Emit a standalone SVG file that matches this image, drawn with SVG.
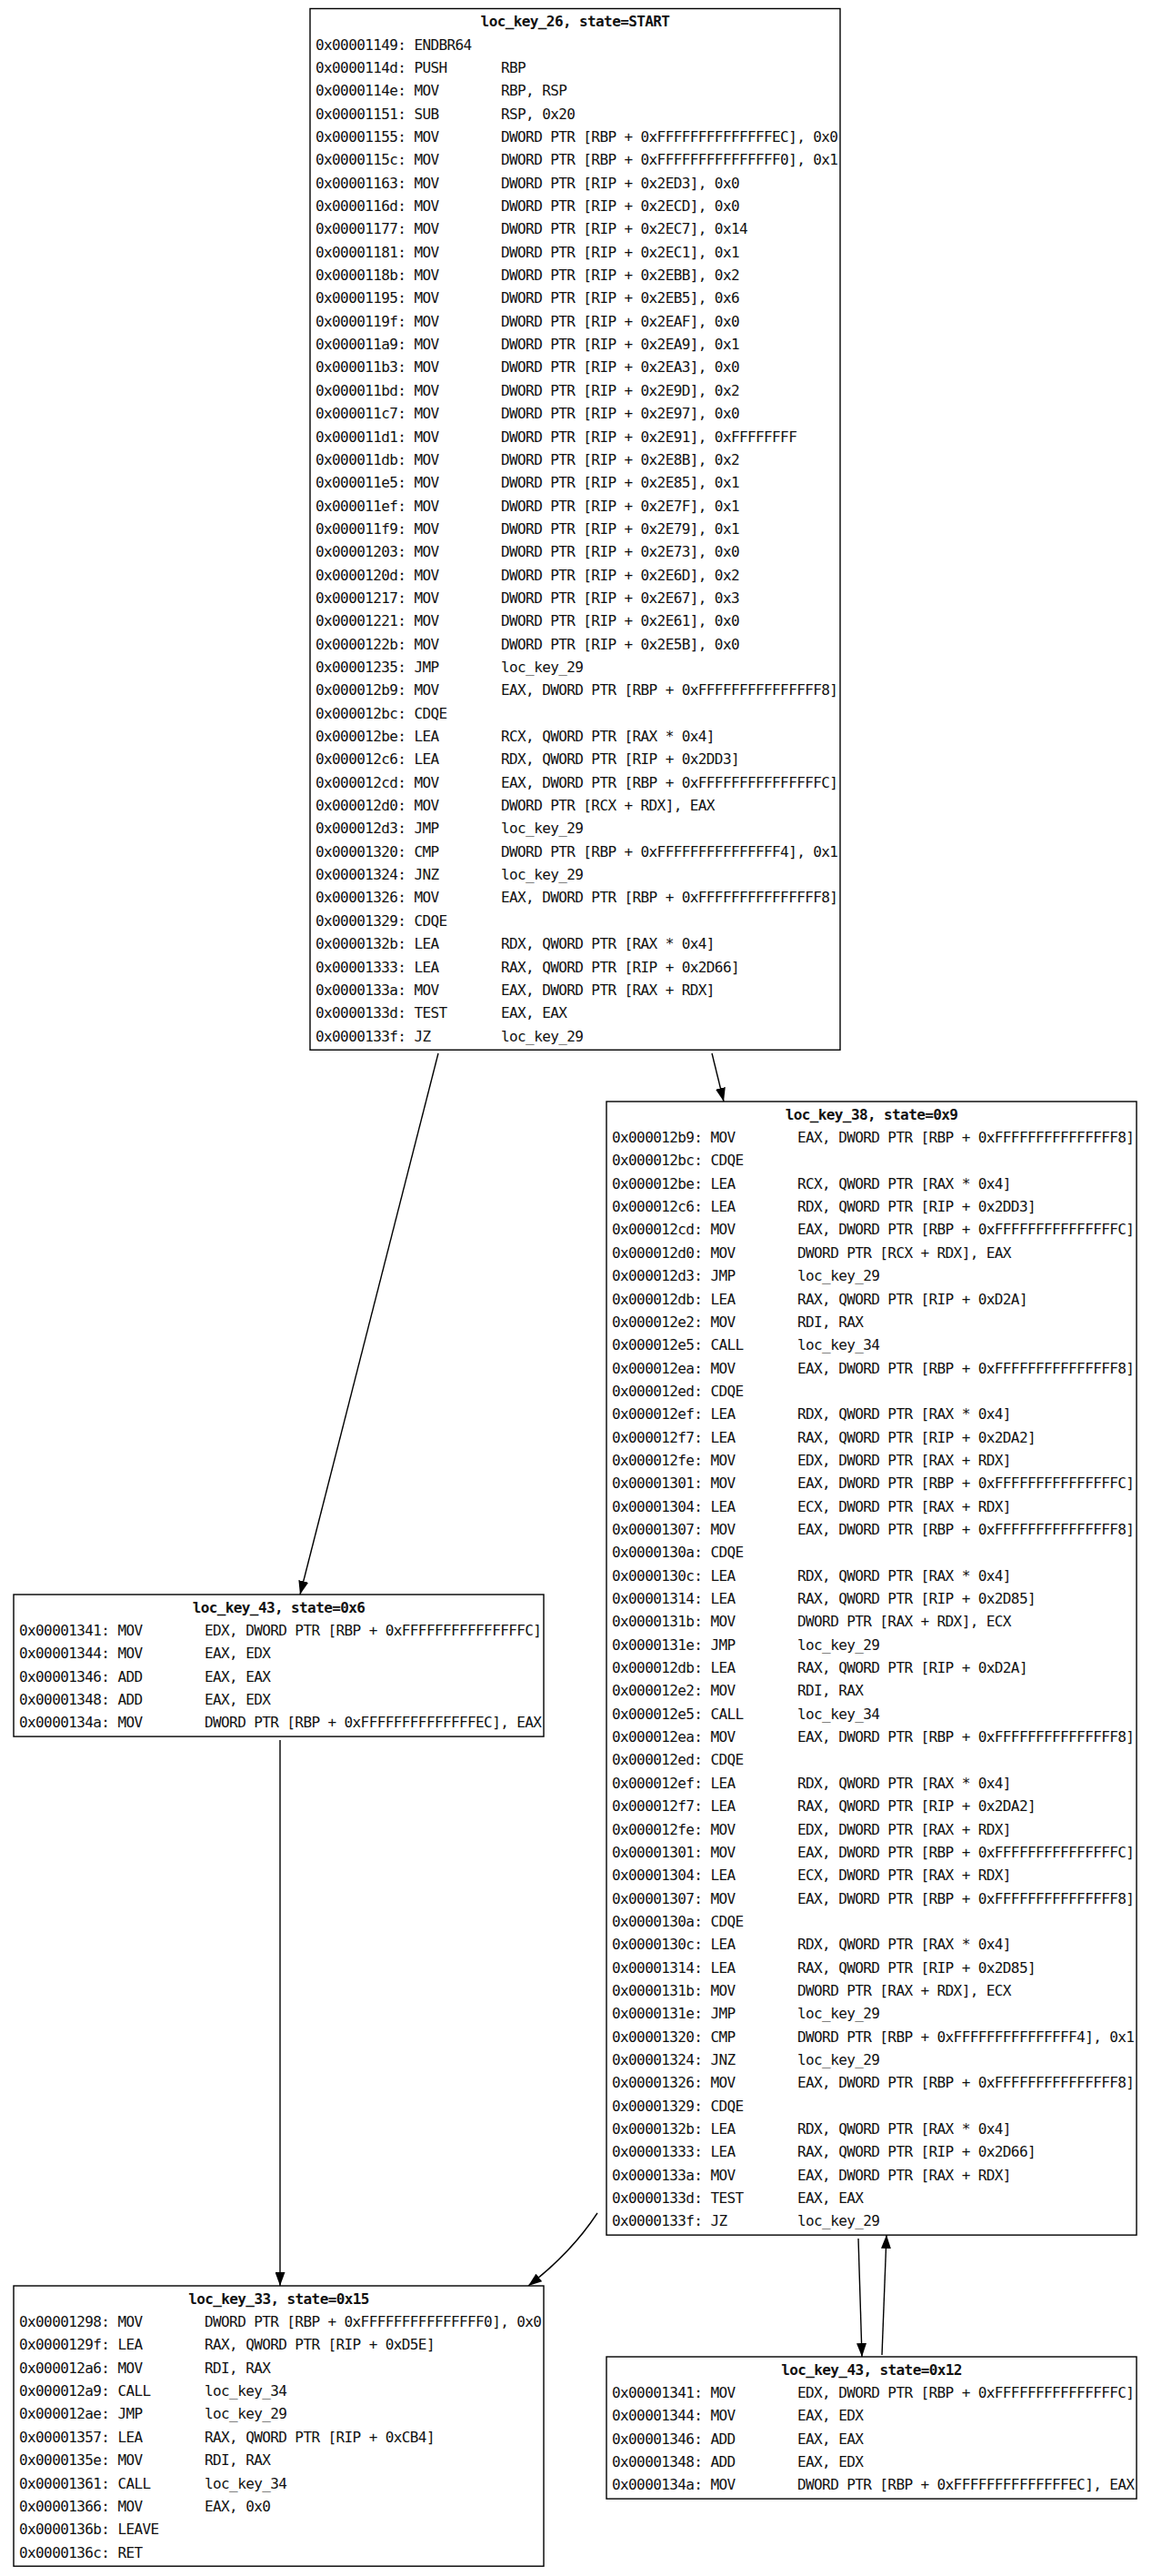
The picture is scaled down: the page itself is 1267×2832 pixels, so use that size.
<svg xmlns="http://www.w3.org/2000/svg" width="1267" height="2832" viewBox="0 0 1267 2832">
<style>
.box{fill:#fff;stroke:#000;stroke-width:1.4}
text{font-family:"DejaVu Sans Mono","Liberation Mono",monospace;font-size:16px;letter-spacing:-0.6px;fill:#111}
.t{font-weight:bold;text-anchor:middle}
.e{fill:none;stroke:#000;stroke-width:1.4}
</style>
<defs>
<marker id="ah" markerWidth="15" markerHeight="11" refX="15" refY="5.5" orient="auto" markerUnits="userSpaceOnUse"><path d="M0,0 L15,5.5 L0,11 z" fill="#000"/></marker>
</defs>
<rect width="1267" height="2832" fill="#fff"/>

<g id="connectors">
<path class="e" d="M482,1158 L330,1753" marker-end="url(#ah)"/>
<path class="e" d="M783,1158 L796,1211" marker-end="url(#ah)"/>
<path class="e" d="M308,1913 L308,2513" marker-end="url(#ah)"/>
<path class="e" d="M657,2433 Q628,2477 581,2513" marker-end="url(#ah)"/>
<path class="e" d="M944,2461 L948,2591" marker-end="url(#ah)"/>
<path class="e" d="M970,2589 L975,2457" marker-end="url(#ah)"/>
</g>

<g id="loc_key_26" transform="translate(341,9.5)">
<rect class="box" x="0" y="0" width="583" height="1144.75"/>
<text class="t" x="291.5" y="19.7">loc_key_26, state=START</text>
<text x="6" y="45.05"><tspan x="6" dy="0">0x00001149: ENDBR64</tspan><tspan x="6" dy="25.35">0x0000114d: PUSH</tspan><tspan x="6" dy="25.35">0x0000114e: MOV</tspan><tspan x="6" dy="25.35">0x00001151: SUB</tspan><tspan x="6" dy="25.35">0x00001155: MOV</tspan><tspan x="6" dy="25.35">0x0000115c: MOV</tspan><tspan x="6" dy="25.35">0x00001163: MOV</tspan><tspan x="6" dy="25.35">0x0000116d: MOV</tspan><tspan x="6" dy="25.35">0x00001177: MOV</tspan><tspan x="6" dy="25.35">0x00001181: MOV</tspan><tspan x="6" dy="25.35">0x0000118b: MOV</tspan><tspan x="6" dy="25.35">0x00001195: MOV</tspan><tspan x="6" dy="25.35">0x0000119f: MOV</tspan><tspan x="6" dy="25.35">0x000011a9: MOV</tspan><tspan x="6" dy="25.35">0x000011b3: MOV</tspan><tspan x="6" dy="25.35">0x000011bd: MOV</tspan><tspan x="6" dy="25.35">0x000011c7: MOV</tspan><tspan x="6" dy="25.35">0x000011d1: MOV</tspan><tspan x="6" dy="25.35">0x000011db: MOV</tspan><tspan x="6" dy="25.35">0x000011e5: MOV</tspan><tspan x="6" dy="25.35">0x000011ef: MOV</tspan><tspan x="6" dy="25.35">0x000011f9: MOV</tspan><tspan x="6" dy="25.35">0x00001203: MOV</tspan><tspan x="6" dy="25.35">0x0000120d: MOV</tspan><tspan x="6" dy="25.35">0x00001217: MOV</tspan><tspan x="6" dy="25.35">0x00001221: MOV</tspan><tspan x="6" dy="25.35">0x0000122b: MOV</tspan><tspan x="6" dy="25.35">0x00001235: JMP</tspan><tspan x="6" dy="25.35">0x000012b9: MOV</tspan><tspan x="6" dy="25.35">0x000012bc: CDQE</tspan><tspan x="6" dy="25.35">0x000012be: LEA</tspan><tspan x="6" dy="25.35">0x000012c6: LEA</tspan><tspan x="6" dy="25.35">0x000012cd: MOV</tspan><tspan x="6" dy="25.35">0x000012d0: MOV</tspan><tspan x="6" dy="25.35">0x000012d3: JMP</tspan><tspan x="6" dy="25.35">0x00001320: CMP</tspan><tspan x="6" dy="25.35">0x00001324: JNZ</tspan><tspan x="6" dy="25.35">0x00001326: MOV</tspan><tspan x="6" dy="25.35">0x00001329: CDQE</tspan><tspan x="6" dy="25.35">0x0000132b: LEA</tspan><tspan x="6" dy="25.35">0x00001333: LEA</tspan><tspan x="6" dy="25.35">0x0000133a: MOV</tspan><tspan x="6" dy="25.35">0x0000133d: TEST</tspan><tspan x="6" dy="25.35">0x0000133f: JZ</tspan></text>
<text x="210" y="70.4"><tspan x="210" dy="0">RBP</tspan><tspan x="210" dy="25.35">RBP, RSP</tspan><tspan x="210" dy="25.35">RSP, 0x20</tspan><tspan x="210" dy="25.35">DWORD PTR [RBP + 0xFFFFFFFFFFFFFFEC], 0x0</tspan><tspan x="210" dy="25.35">DWORD PTR [RBP + 0xFFFFFFFFFFFFFFF0], 0x1</tspan><tspan x="210" dy="25.35">DWORD PTR [RIP + 0x2ED3], 0x0</tspan><tspan x="210" dy="25.35">DWORD PTR [RIP + 0x2ECD], 0x0</tspan><tspan x="210" dy="25.35">DWORD PTR [RIP + 0x2EC7], 0x14</tspan><tspan x="210" dy="25.35">DWORD PTR [RIP + 0x2EC1], 0x1</tspan><tspan x="210" dy="25.35">DWORD PTR [RIP + 0x2EBB], 0x2</tspan><tspan x="210" dy="25.35">DWORD PTR [RIP + 0x2EB5], 0x6</tspan><tspan x="210" dy="25.35">DWORD PTR [RIP + 0x2EAF], 0x0</tspan><tspan x="210" dy="25.35">DWORD PTR [RIP + 0x2EA9], 0x1</tspan><tspan x="210" dy="25.35">DWORD PTR [RIP + 0x2EA3], 0x0</tspan><tspan x="210" dy="25.35">DWORD PTR [RIP + 0x2E9D], 0x2</tspan><tspan x="210" dy="25.35">DWORD PTR [RIP + 0x2E97], 0x0</tspan><tspan x="210" dy="25.35">DWORD PTR [RIP + 0x2E91], 0xFFFFFFFF</tspan><tspan x="210" dy="25.35">DWORD PTR [RIP + 0x2E8B], 0x2</tspan><tspan x="210" dy="25.35">DWORD PTR [RIP + 0x2E85], 0x1</tspan><tspan x="210" dy="25.35">DWORD PTR [RIP + 0x2E7F], 0x1</tspan><tspan x="210" dy="25.35">DWORD PTR [RIP + 0x2E79], 0x1</tspan><tspan x="210" dy="25.35">DWORD PTR [RIP + 0x2E73], 0x0</tspan><tspan x="210" dy="25.35">DWORD PTR [RIP + 0x2E6D], 0x2</tspan><tspan x="210" dy="25.35">DWORD PTR [RIP + 0x2E67], 0x3</tspan><tspan x="210" dy="25.35">DWORD PTR [RIP + 0x2E61], 0x0</tspan><tspan x="210" dy="25.35">DWORD PTR [RIP + 0x2E5B], 0x0</tspan><tspan x="210" dy="25.35">loc_key_29</tspan><tspan x="210" dy="25.35">EAX, DWORD PTR [RBP + 0xFFFFFFFFFFFFFFF8]</tspan><tspan x="210" dy="50.7">RCX, QWORD PTR [RAX * 0x4]</tspan><tspan x="210" dy="25.35">RDX, QWORD PTR [RIP + 0x2DD3]</tspan><tspan x="210" dy="25.35">EAX, DWORD PTR [RBP + 0xFFFFFFFFFFFFFFFC]</tspan><tspan x="210" dy="25.35">DWORD PTR [RCX + RDX], EAX</tspan><tspan x="210" dy="25.35">loc_key_29</tspan><tspan x="210" dy="25.35">DWORD PTR [RBP + 0xFFFFFFFFFFFFFFF4], 0x1</tspan><tspan x="210" dy="25.35">loc_key_29</tspan><tspan x="210" dy="25.35">EAX, DWORD PTR [RBP + 0xFFFFFFFFFFFFFFF8]</tspan><tspan x="210" dy="50.7">RDX, QWORD PTR [RAX * 0x4]</tspan><tspan x="210" dy="25.35">RAX, QWORD PTR [RIP + 0x2D66]</tspan><tspan x="210" dy="25.35">EAX, DWORD PTR [RAX + RDX]</tspan><tspan x="210" dy="25.35">EAX, EAX</tspan><tspan x="210" dy="25.35">loc_key_29</tspan></text>
</g>

<g id="loc_key_38" transform="translate(667,1211)">
<rect class="box" x="0" y="0" width="583" height="1246.15"/>
<text class="t" x="291.5" y="19.7">loc_key_38, state=0x9</text>
<text x="6" y="45.05"><tspan x="6" dy="0">0x000012b9: MOV</tspan><tspan x="6" dy="25.35">0x000012bc: CDQE</tspan><tspan x="6" dy="25.35">0x000012be: LEA</tspan><tspan x="6" dy="25.35">0x000012c6: LEA</tspan><tspan x="6" dy="25.35">0x000012cd: MOV</tspan><tspan x="6" dy="25.35">0x000012d0: MOV</tspan><tspan x="6" dy="25.35">0x000012d3: JMP</tspan><tspan x="6" dy="25.35">0x000012db: LEA</tspan><tspan x="6" dy="25.35">0x000012e2: MOV</tspan><tspan x="6" dy="25.35">0x000012e5: CALL</tspan><tspan x="6" dy="25.35">0x000012ea: MOV</tspan><tspan x="6" dy="25.35">0x000012ed: CDQE</tspan><tspan x="6" dy="25.35">0x000012ef: LEA</tspan><tspan x="6" dy="25.35">0x000012f7: LEA</tspan><tspan x="6" dy="25.35">0x000012fe: MOV</tspan><tspan x="6" dy="25.35">0x00001301: MOV</tspan><tspan x="6" dy="25.35">0x00001304: LEA</tspan><tspan x="6" dy="25.35">0x00001307: MOV</tspan><tspan x="6" dy="25.35">0x0000130a: CDQE</tspan><tspan x="6" dy="25.35">0x0000130c: LEA</tspan><tspan x="6" dy="25.35">0x00001314: LEA</tspan><tspan x="6" dy="25.35">0x0000131b: MOV</tspan><tspan x="6" dy="25.35">0x0000131e: JMP</tspan><tspan x="6" dy="25.35">0x000012db: LEA</tspan><tspan x="6" dy="25.35">0x000012e2: MOV</tspan><tspan x="6" dy="25.35">0x000012e5: CALL</tspan><tspan x="6" dy="25.35">0x000012ea: MOV</tspan><tspan x="6" dy="25.35">0x000012ed: CDQE</tspan><tspan x="6" dy="25.35">0x000012ef: LEA</tspan><tspan x="6" dy="25.35">0x000012f7: LEA</tspan><tspan x="6" dy="25.35">0x000012fe: MOV</tspan><tspan x="6" dy="25.35">0x00001301: MOV</tspan><tspan x="6" dy="25.35">0x00001304: LEA</tspan><tspan x="6" dy="25.35">0x00001307: MOV</tspan><tspan x="6" dy="25.35">0x0000130a: CDQE</tspan><tspan x="6" dy="25.35">0x0000130c: LEA</tspan><tspan x="6" dy="25.35">0x00001314: LEA</tspan><tspan x="6" dy="25.35">0x0000131b: MOV</tspan><tspan x="6" dy="25.35">0x0000131e: JMP</tspan><tspan x="6" dy="25.35">0x00001320: CMP</tspan><tspan x="6" dy="25.35">0x00001324: JNZ</tspan><tspan x="6" dy="25.35">0x00001326: MOV</tspan><tspan x="6" dy="25.35">0x00001329: CDQE</tspan><tspan x="6" dy="25.35">0x0000132b: LEA</tspan><tspan x="6" dy="25.35">0x00001333: LEA</tspan><tspan x="6" dy="25.35">0x0000133a: MOV</tspan><tspan x="6" dy="25.35">0x0000133d: TEST</tspan><tspan x="6" dy="25.35">0x0000133f: JZ</tspan></text>
<text x="210" y="45.05"><tspan x="210" dy="0">EAX, DWORD PTR [RBP + 0xFFFFFFFFFFFFFFF8]</tspan><tspan x="210" dy="50.7">RCX, QWORD PTR [RAX * 0x4]</tspan><tspan x="210" dy="25.35">RDX, QWORD PTR [RIP + 0x2DD3]</tspan><tspan x="210" dy="25.35">EAX, DWORD PTR [RBP + 0xFFFFFFFFFFFFFFFC]</tspan><tspan x="210" dy="25.35">DWORD PTR [RCX + RDX], EAX</tspan><tspan x="210" dy="25.35">loc_key_29</tspan><tspan x="210" dy="25.35">RAX, QWORD PTR [RIP + 0xD2A]</tspan><tspan x="210" dy="25.35">RDI, RAX</tspan><tspan x="210" dy="25.35">loc_key_34</tspan><tspan x="210" dy="25.35">EAX, DWORD PTR [RBP + 0xFFFFFFFFFFFFFFF8]</tspan><tspan x="210" dy="50.7">RDX, QWORD PTR [RAX * 0x4]</tspan><tspan x="210" dy="25.35">RAX, QWORD PTR [RIP + 0x2DA2]</tspan><tspan x="210" dy="25.35">EDX, DWORD PTR [RAX + RDX]</tspan><tspan x="210" dy="25.35">EAX, DWORD PTR [RBP + 0xFFFFFFFFFFFFFFFC]</tspan><tspan x="210" dy="25.35">ECX, DWORD PTR [RAX + RDX]</tspan><tspan x="210" dy="25.35">EAX, DWORD PTR [RBP + 0xFFFFFFFFFFFFFFF8]</tspan><tspan x="210" dy="50.7">RDX, QWORD PTR [RAX * 0x4]</tspan><tspan x="210" dy="25.35">RAX, QWORD PTR [RIP + 0x2D85]</tspan><tspan x="210" dy="25.35">DWORD PTR [RAX + RDX], ECX</tspan><tspan x="210" dy="25.35">loc_key_29</tspan><tspan x="210" dy="25.35">RAX, QWORD PTR [RIP + 0xD2A]</tspan><tspan x="210" dy="25.35">RDI, RAX</tspan><tspan x="210" dy="25.35">loc_key_34</tspan><tspan x="210" dy="25.35">EAX, DWORD PTR [RBP + 0xFFFFFFFFFFFFFFF8]</tspan><tspan x="210" dy="50.7">RDX, QWORD PTR [RAX * 0x4]</tspan><tspan x="210" dy="25.35">RAX, QWORD PTR [RIP + 0x2DA2]</tspan><tspan x="210" dy="25.35">EDX, DWORD PTR [RAX + RDX]</tspan><tspan x="210" dy="25.35">EAX, DWORD PTR [RBP + 0xFFFFFFFFFFFFFFFC]</tspan><tspan x="210" dy="25.35">ECX, DWORD PTR [RAX + RDX]</tspan><tspan x="210" dy="25.35">EAX, DWORD PTR [RBP + 0xFFFFFFFFFFFFFFF8]</tspan><tspan x="210" dy="50.7">RDX, QWORD PTR [RAX * 0x4]</tspan><tspan x="210" dy="25.35">RAX, QWORD PTR [RIP + 0x2D85]</tspan><tspan x="210" dy="25.35">DWORD PTR [RAX + RDX], ECX</tspan><tspan x="210" dy="25.35">loc_key_29</tspan><tspan x="210" dy="25.35">DWORD PTR [RBP + 0xFFFFFFFFFFFFFFF4], 0x1</tspan><tspan x="210" dy="25.35">loc_key_29</tspan><tspan x="210" dy="25.35">EAX, DWORD PTR [RBP + 0xFFFFFFFFFFFFFFF8]</tspan><tspan x="210" dy="50.7">RDX, QWORD PTR [RAX * 0x4]</tspan><tspan x="210" dy="25.35">RAX, QWORD PTR [RIP + 0x2D66]</tspan><tspan x="210" dy="25.35">EAX, DWORD PTR [RAX + RDX]</tspan><tspan x="210" dy="25.35">EAX, EAX</tspan><tspan x="210" dy="25.35">loc_key_29</tspan></text>
</g>

<g id="loc_key_43_0x6" transform="translate(15,1753)">
<rect class="box" x="0" y="0" width="583" height="156.1"/>
<text class="t" x="291.5" y="19.7">loc_key_43, state=0x6</text>
<text x="6" y="45.05"><tspan x="6" dy="0">0x00001341: MOV</tspan><tspan x="6" dy="25.35">0x00001344: MOV</tspan><tspan x="6" dy="25.35">0x00001346: ADD</tspan><tspan x="6" dy="25.35">0x00001348: ADD</tspan><tspan x="6" dy="25.35">0x0000134a: MOV</tspan></text>
<text x="210" y="45.05"><tspan x="210" dy="0">EDX, DWORD PTR [RBP + 0xFFFFFFFFFFFFFFFC]</tspan><tspan x="210" dy="25.35">EAX, EDX</tspan><tspan x="210" dy="25.35">EAX, EAX</tspan><tspan x="210" dy="25.35">EAX, EDX</tspan><tspan x="210" dy="25.35">DWORD PTR [RBP + 0xFFFFFFFFFFFFFFEC], EAX</tspan></text>
</g>

<g id="loc_key_33" transform="translate(15,2513)">
<rect class="box" x="0" y="0" width="583" height="308.2"/>
<text class="t" x="291.5" y="19.7">loc_key_33, state=0x15</text>
<text x="6" y="45.05"><tspan x="6" dy="0">0x00001298: MOV</tspan><tspan x="6" dy="25.35">0x0000129f: LEA</tspan><tspan x="6" dy="25.35">0x000012a6: MOV</tspan><tspan x="6" dy="25.35">0x000012a9: CALL</tspan><tspan x="6" dy="25.35">0x000012ae: JMP</tspan><tspan x="6" dy="25.35">0x00001357: LEA</tspan><tspan x="6" dy="25.35">0x0000135e: MOV</tspan><tspan x="6" dy="25.35">0x00001361: CALL</tspan><tspan x="6" dy="25.35">0x00001366: MOV</tspan><tspan x="6" dy="25.35">0x0000136b: LEAVE</tspan><tspan x="6" dy="25.35">0x0000136c: RET</tspan></text>
<text x="210" y="45.05"><tspan x="210" dy="0">DWORD PTR [RBP + 0xFFFFFFFFFFFFFFF0], 0x0</tspan><tspan x="210" dy="25.35">RAX, QWORD PTR [RIP + 0xD5E]</tspan><tspan x="210" dy="25.35">RDI, RAX</tspan><tspan x="210" dy="25.35">loc_key_34</tspan><tspan x="210" dy="25.35">loc_key_29</tspan><tspan x="210" dy="25.35">RAX, QWORD PTR [RIP + 0xCB4]</tspan><tspan x="210" dy="25.35">RDI, RAX</tspan><tspan x="210" dy="25.35">loc_key_34</tspan><tspan x="210" dy="25.35">EAX, 0x0</tspan></text>
</g>

<g id="loc_key_43_0x12" transform="translate(667,2591)">
<rect class="box" x="0" y="0" width="583" height="156.1"/>
<text class="t" x="291.5" y="19.7">loc_key_43, state=0x12</text>
<text x="6" y="45.05"><tspan x="6" dy="0">0x00001341: MOV</tspan><tspan x="6" dy="25.35">0x00001344: MOV</tspan><tspan x="6" dy="25.35">0x00001346: ADD</tspan><tspan x="6" dy="25.35">0x00001348: ADD</tspan><tspan x="6" dy="25.35">0x0000134a: MOV</tspan></text>
<text x="210" y="45.05"><tspan x="210" dy="0">EDX, DWORD PTR [RBP + 0xFFFFFFFFFFFFFFFC]</tspan><tspan x="210" dy="25.35">EAX, EDX</tspan><tspan x="210" dy="25.35">EAX, EAX</tspan><tspan x="210" dy="25.35">EAX, EDX</tspan><tspan x="210" dy="25.35">DWORD PTR [RBP + 0xFFFFFFFFFFFFFFEC], EAX</tspan></text>
</g>
</svg>
